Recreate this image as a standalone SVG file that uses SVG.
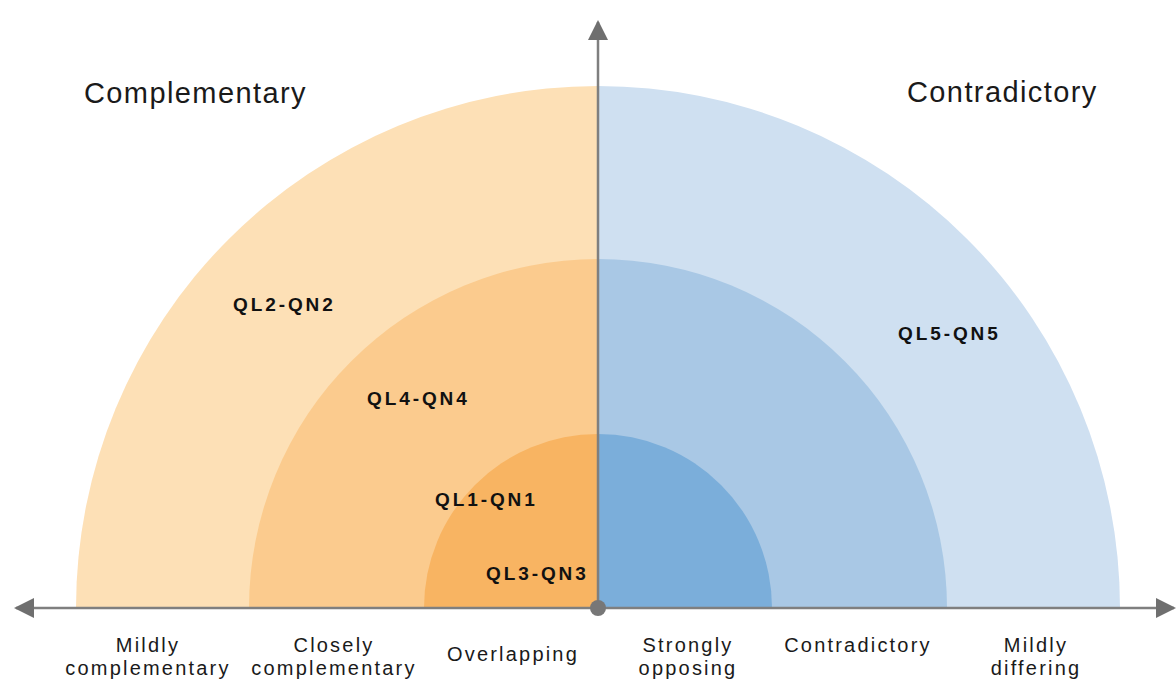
<svg xmlns="http://www.w3.org/2000/svg" width="1176" height="680" viewBox="0 0 1176 680">
<defs>
<style>
.ax{stroke:#7f7f7f;stroke-width:2.5;fill:none}
.ttl{font-family:"Liberation Sans",Arial,sans-serif;font-size:29px;fill:#1a1a1a;letter-spacing:1.4px}
.lbl{font-family:"Liberation Sans",Arial,sans-serif;font-size:19px;font-weight:bold;fill:#111;letter-spacing:2.9px}
.ax-t{font-family:"Liberation Sans",Arial,sans-serif;font-size:20px;fill:#1a1a1a;text-anchor:middle;letter-spacing:2.2px}
</style>
<marker id="arrb" viewBox="0 0 10 10" refX="9" refY="5" markerWidth="8" markerHeight="8" orient="auto">
<path d="M0,0 L10,5 L0,10 z" fill="#6f6f6f"/>
</marker>
</defs>
<rect width="1176" height="680" fill="#ffffff"/>
<g id="ring-outer">
<path d="M76,608 A522,522 0 0 1 598,86 L598,608 Z" fill="#FDE0B6"/>
<path d="M598,86 A522,522 0 0 1 1120,608 L598,608 Z" fill="#CFE0F1"/>
</g>
<g id="ring-middle">
<path d="M249,608 A349,349 0 0 1 598,259 L598,608 Z" fill="#FBCB8E"/>
<path d="M598,259 A349,349 0 0 1 947,608 L598,608 Z" fill="#A9C8E5"/>
</g>
<g id="ring-inner">
<path d="M424,608 A174,174 0 0 1 598,434 L598,608 Z" fill="#F8B462"/>
<path d="M598,434 A174,174 0 0 1 772,608 L598,608 Z" fill="#7BAEDA"/>
</g>
<g id="connectors">
<line class="ax" x1="598" y1="608" x2="16" y2="608" marker-end="url(#arrb)"/>
<line class="ax" x1="598" y1="608" x2="1174" y2="608" marker-end="url(#arrb)"/>
<line class="ax" x1="598" y1="608" x2="598" y2="22" marker-end="url(#arrb)"/>
</g>
<g id="origin"><circle cx="598" cy="608" r="8" fill="#777"/></g>
<g id="title-left"><text class="ttl" x="84" y="103">Complementary</text></g>
<g id="title-right"><text class="ttl" x="907" y="102">Contradictory</text></g>
<g id="ql2"><text class="lbl" x="233" y="311">QL2-QN2</text></g>
<g id="ql4"><text class="lbl" x="367" y="405">QL4-QN4</text></g>
<g id="ql1"><text class="lbl" x="435" y="506">QL1-QN1</text></g>
<g id="ql3"><text class="lbl" x="486" y="580">QL3-QN3</text></g>
<g id="ql5"><text class="lbl" x="898" y="340">QL5-QN5</text></g>
<g id="x-labels">
<text class="ax-t" x="148" y="652">Mildly</text>
<text class="ax-t" x="148" y="675">complementary</text>
<text class="ax-t" x="334" y="652">Closely</text>
<text class="ax-t" x="334" y="675">complementary</text>
<text class="ax-t" x="513" y="661">Overlapping</text>
<text class="ax-t" x="688" y="652">Strongly</text>
<text class="ax-t" x="688" y="675">opposing</text>
<text class="ax-t" x="858" y="652">Contradictory</text>
<text class="ax-t" x="1036" y="652">Mildly</text>
<text class="ax-t" x="1036" y="675">differing</text>
</g>
</svg>
